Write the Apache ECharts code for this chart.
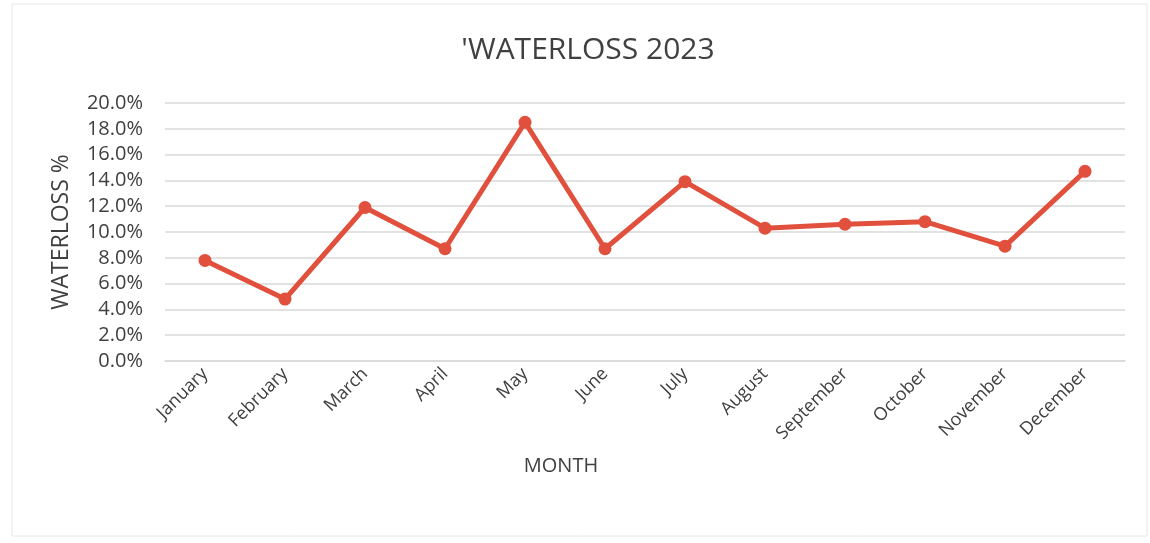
<!DOCTYPE html>
<html>
<head>
<meta charset="utf-8">
<script src="https://cdn.jsdelivr.net/npm/echarts@6/dist/echarts.min.js"></script>
<style>html,body{margin:0;padding:0;background:#fff}#c{width:1150px;height:543px}</style>
</head>
<body>
<div id="c"></div>
<script>
const months = ['January','February','March','April','May','June','July','August','September','October','November','December'];
const waterloss = [7.8, 4.8, 11.9, 8.7, 18.5, 8.7, 13.9, 10.3, 10.6, 10.8, 8.9, 14.7];
const titleText = "'WATERLOSS 2023";
const yName = 'WATERLOSS %';
const xName = 'MONTH';

const FONT = '"Open Sans", "Noto Sans", sans-serif';
const chart = echarts.init(document.getElementById('c'), null, {renderer: 'canvas'});
chart.setOption({
  backgroundColor: '#fff',
  animation: false,
  title: {
    text: titleText,
    left: 583, top: 30, textAlign: 'center',
    textStyle: {fontFamily: FONT, fontSize: 30, fontWeight: 'normal', color: '#404040'}
  },
  graphic: [{
    type: 'rect', shape: {x: 12, y: 4, width: 1135, height: 532},
    style: {fill: 'none', stroke: '#e6e6e6', lineWidth: 1}, silent: true
  }],
  grid: {left: 165, right: 25, top: 103, bottom: 182, containLabel: false},
  xAxis: {
    type: 'category', data: months, boundaryGap: true,
    name: xName, nameLocation: 'middle', nameGap: 95,
    nameTextStyle: {fontFamily: FONT, fontSize: 20, color: '#404040', padding: [0, 168, 0, 0]},
    axisLine: {show: true, lineStyle: {color: '#d9d9d9', width: 1.5}},
    axisTick: {show: false},
    axisLabel: {rotate: 45, fontFamily: FONT, fontSize: 18, color: '#404040', margin: 10, interval: 0}
  },
  yAxis: {
    type: 'value', min: 0, max: 20, interval: 2,
    name: yName, nameLocation: 'middle', nameGap: 92,
    nameTextStyle: {fontFamily: FONT, fontSize: 23, color: '#404040'},
    axisLine: {show: false}, axisTick: {show: false},
    axisLabel: {fontFamily: FONT, fontSize: 20, color: '#404040', margin: 22,
      formatter: v => v.toFixed(1) + '%'},
    splitLine: {lineStyle: {color: '#d9d9d9', width: 1.5}}
  },
  series: [{
    type: 'line', data: waterloss,
    lineStyle: {color: '#E1503C', width: 5},
    itemStyle: {color: '#E1503C'},
    symbol: 'circle', symbolSize: 13
  }]
});
</script>
</body>
</html>
